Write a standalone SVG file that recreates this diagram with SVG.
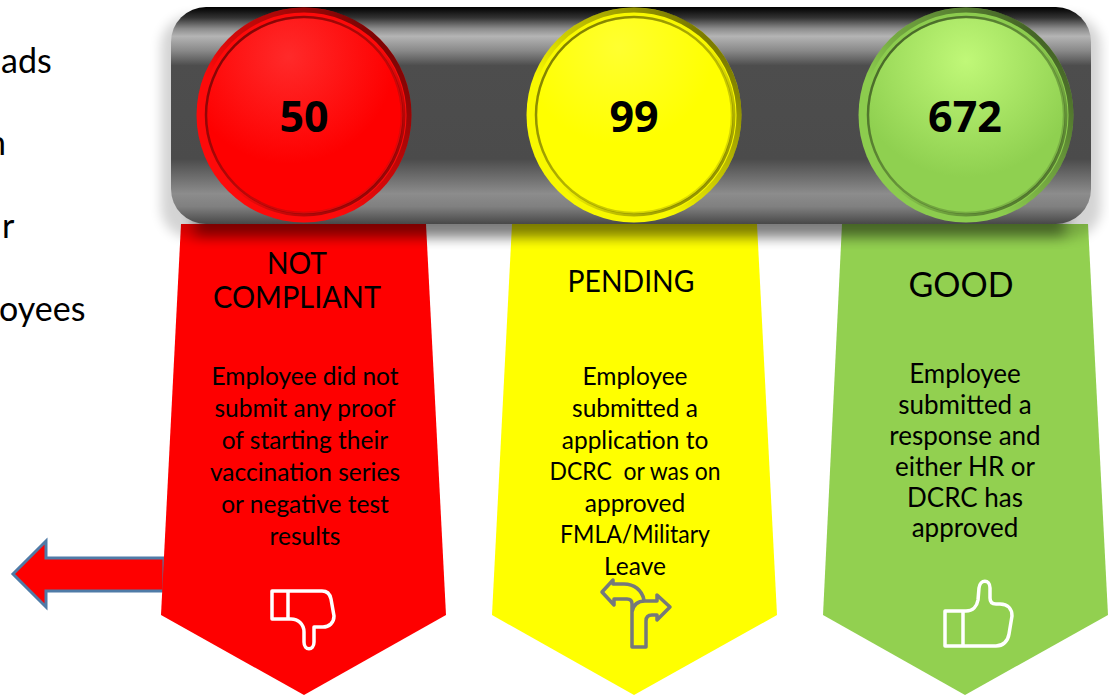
<svg xmlns="http://www.w3.org/2000/svg" width="1109" height="695" viewBox="0 0 1109 695">
<style>
text{font-family:"Lato","Open Sans","Liberation Sans",sans-serif;fill:#000;text-anchor:middle;white-space:pre}
.side{font-size:34px;text-anchor:start}
.head{font-size:31px}
.body{font-size:24.5px}
.bodyg{font-size:26px}
.num{font-size:43px;font-weight:700;font-family:"Open Sans","Lato",sans-serif}
.icon{fill:none;stroke-width:3.5;stroke-linejoin:round;stroke-linecap:round}
.rim{fill:none;stroke-width:5}
</style>
<defs>
<linearGradient id="bar" x1="0" y1="0" x2="0" y2="1">
<stop offset="0" stop-color="#000"/><stop offset=".05" stop-color="#333"/><stop offset=".1" stop-color="#8c8c8c"/><stop offset=".135" stop-color="#b4b4b4"/><stop offset=".2" stop-color="#8a8a8a"/><stop offset=".27" stop-color="#4d4d4d"/><stop offset=".7" stop-color="#4b4b4b"/><stop offset=".86" stop-color="#8c8c8c"/><stop offset=".92" stop-color="#808080"/><stop offset="1" stop-color="#484848"/>
</linearGradient>
<filter id="blur" x="-10%" y="-30%" width="120%" height="160%"><feGaussianBlur stdDeviation="6"/></filter>
<filter id="blur2" x="-5%" y="-50%" width="110%" height="200%"><feGaussianBlur stdDeviation="7"/></filter>
<linearGradient id="edge" x1="0" y1="1" x2="1" y2="0"><stop offset=".35" stop-color="#000" stop-opacity="0"/><stop offset=".85" stop-color="#000" stop-opacity=".5"/></linearGradient>
<linearGradient id="edge2" x1="0" y1="0" x2="1" y2="1"><stop offset=".5" stop-color="#000" stop-opacity="0"/><stop offset=".85" stop-color="#000" stop-opacity=".4"/><stop offset="1" stop-color="#000" stop-opacity=".1"/></linearGradient>
<linearGradient id="groove" x1="0" y1="0" x2="1" y2="1"><stop offset=".1" stop-color="#000" stop-opacity=".5"/><stop offset=".75" stop-color="#000" stop-opacity=".15"/><stop offset=".9" stop-color="#000" stop-opacity=".1"/></linearGradient>
<radialGradient id="faceR" cx=".42" cy=".2" r=".55"><stop offset="0" stop-color="#ff2a2a"/><stop offset="1" stop-color="#fe0000"/></radialGradient>
<radialGradient id="faceY" cx=".42" cy=".15" r=".5"><stop offset="0" stop-color="#ffff30"/><stop offset="1" stop-color="#ffff00"/></radialGradient>
<radialGradient id="faceG" cx=".5" cy=".22" r=".6"><stop offset="0" stop-color="#c0f878"/><stop offset="1" stop-color="#8fd050"/></radialGradient>
</defs>

<g id="side-text">
<text class="side" x="1" y="73">ads</text>
<text class="side" x="-13" y="155">n</text>
<text class="side" x="2" y="238">r</text>
<text class="side" x="-1" y="321">oyees</text>
</g>

<g id="connectors">
<path d="M164 558H46V541L13 574L46 607V591H164Z" fill="#fe0000" stroke="#4f7ba7" stroke-width="3"/>
</g>

<g id="panel-red">
<path d="M181 224H426L446 615L304 695L161 615Z" fill="#fe0000"/>
<text class="head" x="297" y="274" textLength="60" lengthAdjust="spacingAndGlyphs">NOT</text>
<text class="head" x="297" y="308" textLength="168" lengthAdjust="spacingAndGlyphs">COMPLIANT</text>
<g class="body">
<text x="305" y="385">Employee did not</text>
<text x="305" y="417">submit any proof</text>
<text x="305" y="449">of starting their</text>
<text x="305" y="481">vaccination series</text>
<text x="305" y="513">or negative test</text>
<text x="305" y="545">results</text>
</g>
<path class="icon" stroke="#fff" d="M272 591H322C327 591 330 594 331 599L334 616C334 623 329 627 323 627H314V642C314 651 304 651 304 642V632C304 624 298 619 291 619H272ZM288 591V619"/>
</g>

<g id="panel-yellow">
<path d="M512 224H757L777 615L634 695L492 615Z" fill="#ff0"/>
<text class="head" x="631" y="292" textLength="127" lengthAdjust="spacingAndGlyphs">PENDING</text>
<g class="body">
<text x="635" y="385">Employee</text>
<text x="635" y="417">submitted a</text>
<text x="635" y="449">application to</text>
<text x="635" y="480" textLength="171" lengthAdjust="spacingAndGlyphs">DCRC  or was on</text>
<text x="635" y="512">approved</text>
<text x="635" y="543" textLength="150" lengthAdjust="spacingAndGlyphs">FMLA/Military</text>
<text x="635" y="575">Leave</text>
</g>
<path class="icon" stroke="#75787b" stroke-width="4" d="M613 580L602 592L614 605V599H627Q632 599 632 604V647H646V621Q646 615 652 615H657V620L670 607L657 595V601H645Q634 601 632 612M644 600C642 590 634 584 624 584H613V580"/>
</g>

<g id="panel-green">
<path d="M842 224H1088L1108 615L965 695L823 615Z" fill="#92d050"/>
<text class="head" x="961" y="297" font-size="34" style="font-size:34px" textLength="105" lengthAdjust="spacingAndGlyphs">GOOD</text>
<g class="bodyg">
<text x="965" y="383">Employee</text>
<text x="965" y="414">submitted a</text>
<text x="965" y="445">response and</text>
<text x="965" y="476">either HR or</text>
<text x="965" y="507">DCRC has</text>
<text x="965" y="537">approved</text>
</g>
<path class="icon" stroke="#fff" d="M945 611H966C973 611 977 606 978 600L979 588C980 579 990 579 990 588V598C990 602 992 604 996 604H1000C1008 604 1012 609 1012 616L1009 634C1008 641 1003 646 996 646H945ZM963 611V646"/>
</g>

<g id="bar">
<rect x="161" y="16" width="940" height="222" rx="30" fill="#000" opacity=".17" filter="url(#blur)"/>
<rect x="195" y="200" width="870" height="36" fill="#000" opacity=".42" filter="url(#blur2)"/>
<rect x="171" y="7" width="920" height="217" rx="35" fill="url(#bar)"/>
</g>

<g id="badge-red">
<circle cx="304" cy="115" r="107.500" fill="#fe0a0a"/>
<circle cx="304" cy="115" r="105" class="rim" stroke="url(#edge)"/>
<circle cx="304" cy="115" r="97" fill="url(#faceR)"/>
<circle cx="304" cy="115" r="98" fill="none" stroke="url(#groove)" stroke-width="2.500"/>
<circle cx="304" cy="115" r="100" fill="none" stroke="url(#edge2)" stroke-width="3"/>
<text class="num" x="304" y="132">50</text>
</g>
<g id="badge-yellow">
<circle cx="634" cy="115" r="107.500" fill="#f8f800"/>
<circle cx="634" cy="115" r="105" class="rim" stroke="url(#edge)"/>
<circle cx="634" cy="115" r="97" fill="url(#faceY)"/>
<circle cx="634" cy="115" r="98" fill="none" stroke="url(#groove)" stroke-width="2.500"/>
<circle cx="634" cy="115" r="100" fill="none" stroke="url(#edge2)" stroke-width="3"/>
<text class="num" x="634" y="132">99</text>
</g>
<g id="badge-green">
<circle cx="966" cy="115" r="107.500" fill="#8ccc4e"/>
<circle cx="966" cy="115" r="105" class="rim" stroke="url(#edge)"/>
<circle cx="966" cy="115" r="97" fill="url(#faceG)"/>
<circle cx="966" cy="115" r="98" fill="none" stroke="url(#groove)" stroke-width="2.500"/>
<circle cx="966" cy="115" r="100" fill="none" stroke="url(#edge2)" stroke-width="3"/>
<text class="num" x="965" y="132">672</text>
</g>
</svg>
